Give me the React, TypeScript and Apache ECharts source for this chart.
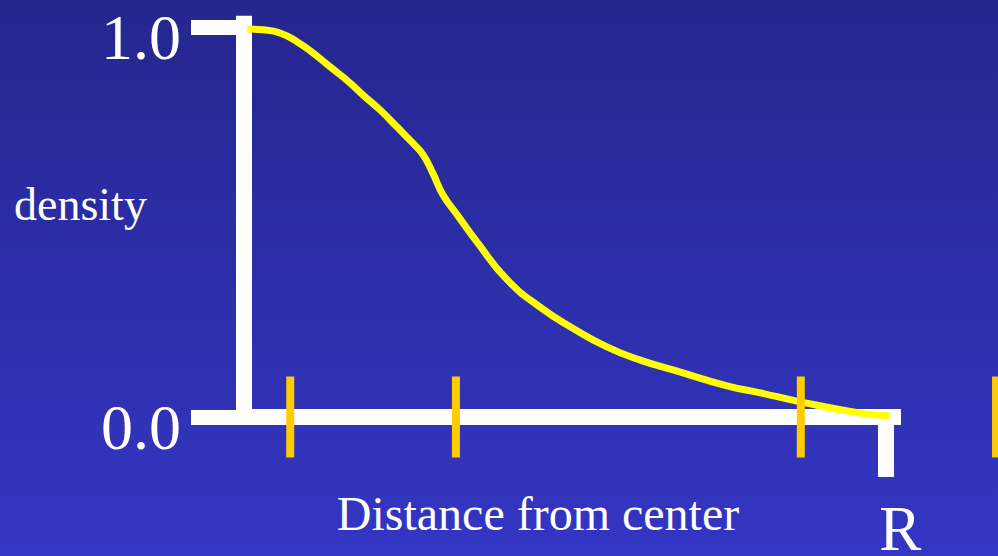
import React, { useEffect, useRef } from "react";
import * as echarts from "echarts";

// Distance from center (R = 1) and density (normalised to 1.0 at the center)
const distance = [0.005, 0.03, 0.056, 0.083, 0.107, 0.134, 0.16, 0.185, 0.212, 0.238, 0.263, 0.279, 0.294, 0.31, 0.332, 0.363, 0.41, 0.461, 0.512, 0.565, 0.617, 0.668, 0.752, 0.804, 0.866, 0.96, 1.005];
const density = [0.996, 0.994, 0.986, 0.963, 0.935, 0.899, 0.865, 0.827, 0.788, 0.745, 0.703, 0.673, 0.626, 0.57, 0.519, 0.449, 0.352, 0.282, 0.228, 0.18, 0.146, 0.121, 0.08, 0.062, 0.039, 0.01, 0.003];
// Orange marker positions along the distance axis
const markers = [0.072, 0.33, 0.867, 1.171];
const yTickValues = [0, 1];
const xTickValues = [1];
const xTickLabel = "R";

const SERIF = "'Liberation Serif', 'Times New Roman', serif";

export default function App() {
  const ref = useRef<HTMLDivElement>(null);
  useEffect(() => {
    document.body.style.margin = "0";
    const chart = echarts.init(ref.current!, undefined, { renderer: "svg" });
    const curve = distance.map((d, i) => [d, density[i]]);
    chart.setOption({
      animation: false,
      backgroundColor: {
        type: "linear", x: 0, y: 0, x2: 0, y2: 1,
        colorStops: [
          { offset: 0, color: "#25268e" },
          { offset: 1, color: "#3436c4" },
        ],
      },
      grid: { left: 244, right: 97, top: 15.8, bottom: 139, outerBoundsMode: "none", containLabel: false },
      xAxis: {
        type: "value",
        min: 0,
        max: 1.023,
        splitLine: { show: false },
        axisLine: { show: true, lineStyle: { color: "#ffffff", width: 16, cap: "butt" } },
        axisTick: { show: true, customValues: xTickValues, length: 60, lineStyle: { color: "#ffffff", width: 16, cap: "butt" } },
        axisLabel: {
          show: true,
          customValues: xTickValues,
          formatter: () => xTickLabel,
          color: "#ffffff",
          fontFamily: SERIF,
          fontSize: 63,
          lineHeight: 40,
          margin: 112,
          align: "center",
          verticalAlign: "middle",
          padding: [0, 0, 0, 28],
        },
      },
      yAxis: {
        type: "value",
        min: 0,
        max: 1.03,
        splitLine: { show: false },
        axisLine: { show: true, lineStyle: { color: "#ffffff", width: 16, cap: "butt" } },
        axisTick: { show: true, customValues: yTickValues, length: 53, lineStyle: { color: "#ffffff", width: 15, cap: "butt" } },
        axisLabel: {
          show: true,
          customValues: yTickValues,
          formatter: (v: number) => v.toFixed(1),
          color: "#ffffff",
          fontFamily: SERIF,
          fontSize: 64,
          lineHeight: 20,
          margin: 63,
          verticalAlign: "top",
        },
      },
      series: [
        {
          type: "line",
          data: curve,
          smooth: 0.5,
          showSymbol: false,
          lineStyle: { color: "#ffff00", width: 7, cap: "butt" },
          z: 3,
          clip: false,
        },
        {
          type: "custom",
          data: markers.map((m) => [m]),
          clip: false,
          z: 4,
          renderItem: (params: any, api: any) => {
            const p = api.coord([api.value(0), 0]);
            return {
              type: "line",
              shape: { x1: p[0], y1: p[1] - 40.5, x2: p[0], y2: p[1] + 40.5 },
              style: { stroke: "#ffcc00", lineWidth: 8, lineCap: "butt" },
            };
          },
        },
      ],
      graphic: [
        {
          type: "text",
          x: 14,
          y: 204.5,
          style: {
            text: "density",
            fill: "#ffffff",
            font: `46px ${SERIF}`,
            align: "left",
            verticalAlign: "middle",
          },
        },
        {
          type: "text",
          x: 538,
          y: 513.8,
          style: {
            text: "Distance from center",
            fill: "#ffffff",
            font: `48px ${SERIF}`,
            align: "center",
            verticalAlign: "middle",
          },
        },
      ],
    });
    return () => chart.dispose();
  }, []);
  return (
    <div
      ref={ref}
      style={{ position: "absolute", left: 0, top: 0, width: 998, height: 556 }}
    />
  );
}
